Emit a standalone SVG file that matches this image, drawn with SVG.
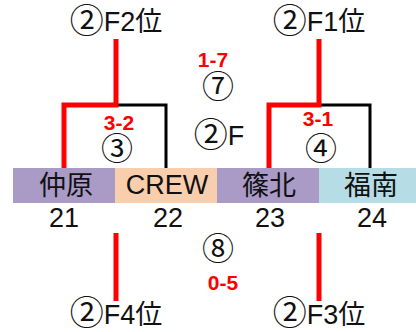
<svg xmlns="http://www.w3.org/2000/svg" width="416" height="332" viewBox="0 0 416 332">
<style>
text{font-family:"Liberation Sans","Noto Sans CJK JP",sans-serif;text-anchor:middle;fill:#111}
.l{font-size:27px}
.c{font-size:34px}
.n{font-size:32px}
.s{font-size:21px;font-weight:bold;fill:#ff0000}
.r{fill:none;stroke:#ff0000;stroke-width:5}
.k{fill:none;stroke:#000;stroke-width:3}
</style>
<rect width="416" height="332" fill="#fff"/>
<g id="band">
<g id="t21"><rect x="13" y="168" width="102" height="35" fill="#a99bc6"/><text class="l" x="66" y="195">仲原</text><text class="l" x="64" y="227">21</text></g>
<g id="t22"><rect x="115" y="168" width="102" height="35" fill="#f9cead"/><text class="l" x="167" y="194">CREW</text><text class="l" x="168" y="227">22</text></g>
<g id="t23"><rect x="217" y="168" width="102" height="35" fill="#a99bc6"/><text class="l" x="269" y="195">篠北</text><text class="l" x="270" y="227">23</text></g>
<g id="t24"><rect x="319" y="168" width="97" height="35" fill="#b6dde6"/><text class="l" x="371" y="195">福南</text><text class="l" x="372" y="227">24</text></g>
</g>
<g id="connectors">
<path class="k" d="M116,105H166V168"/>
<path class="k" d="M319,105H370V168"/>
<path class="r" d="M64,168V105H116V39"/>
<path class="r" d="M269,168V105H319V39"/>
<path class="r" d="M116,233V301"/>
<path class="r" d="M319,233V301"/>
</g>
<g id="labels">
<g id="f2"><text class="l" x="116" y="31"><tspan class="c" dy="2">②</tspan><tspan dy="-2">F2位</tspan></text></g>
<g id="f1"><text class="l" x="319" y="31"><tspan class="c" dy="2">②</tspan><tspan dy="-2">F1位</tspan></text></g>
<g id="f4"><text class="l" x="116" y="324"><tspan class="c" dy="1">②</tspan><tspan dy="-1">F4位</tspan></text></g>
<g id="f3"><text class="l" x="319" y="324"><tspan class="c" dy="1">②</tspan><tspan dy="-1">F3位</tspan></text></g>
<g id="m7"><text class="s" x="213" y="67">1-7</text><text class="n" x="218" y="98">⑦</text></g>
<g id="f"><text class="l" x="219" y="145"><tspan class="c" dy="2">②</tspan><tspan dy="-2">F</tspan></text></g>
<g id="m3"><text class="s" x="119" y="130">3-2</text><text class="n" x="117" y="160">③</text></g>
<g id="m4"><text class="s" x="318" y="126">3-1</text><text class="n" x="321" y="160">④</text></g>
<g id="m8"><text class="n" x="218" y="260">⑧</text><text class="s" x="223" y="290">0-5</text></g>
</g>
</svg>
